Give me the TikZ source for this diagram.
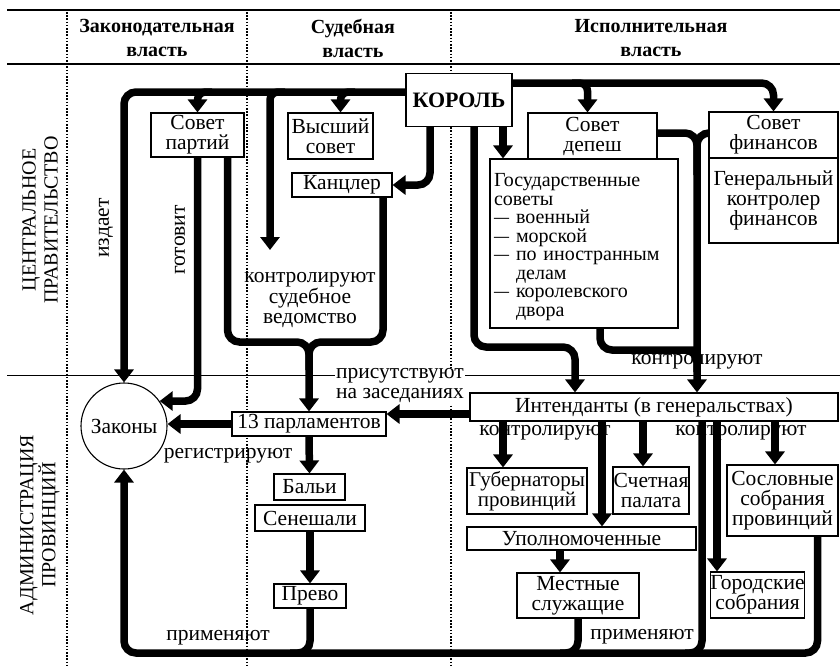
\documentclass[tikz,border=0pt]{standalone}
\usepackage{fontspec}
\setmainfont{Liberation Serif}
\usetikzlibrary{arrows.meta,calc}
\newcommand{\tire}{\makebox[1.1em][l]{\scalebox{0.75}[1]{—}}}

\begin{document}
\begin{tikzpicture}[x=1pt,y=-1pt,
    txt/.style={font=\fontsize{21.5}{20}\selectfont, align=center},
    box/.style={txt, draw, line width=1.1pt, fill=white, inner sep=0pt},
    flow/.style={line width=7.5pt, rounded corners=12pt},
    flowarr/.style={flow, -{Triangle[length=13pt,width=19pt]}},
    branch/.style={flowarr, rounded corners=8pt},
    head/.style={font=\fontsize{20}{24}\selectfont\bfseries, align=center},
    side/.style={font=\fontsize{20}{22}\selectfont, align=center, rotate=90},
    rule/.style={line width=1.2pt},
    dots/.style={line width=1.6pt, dash pattern=on 1.6pt off 1.6pt}]
        \useasboundingbox (0,0) rectangle (840,665);
        %SETKA
        \draw[rule] (7,10) -- (840,10);
        \draw[rule] (7,64) -- (840,64);
        \draw[line width=0.9pt] (7,375) -- (840,375);
        \draw[dots] (67,12) -- (67,665);
        \draw[dots] (247,12) -- (247,665);
        \draw[dots] (451,12) -- (451,665);
        %ZAGOLOVKI
        \node[head] (hzak) at (157,38) {Законодательная\\власть};
        \node[head] (hsud) at (353,38) {Судебная\\власть};
        \node[head] (hisp) at (651,38) {Исполнительная\\власть};
        \node[side] (hcentr) at (40,220) {ЦЕНТРАЛЬНОЕ\\ПРАВИТЕЛЬСТВО};
        \node[side] (hprov) at (40,525) {АДМИНИСТРАЦИЯ\\ПРОВИНЦИЙ};
        %CENTR
        \node[box, minimum width=106pt, minimum height=53pt, font=\fontsize{22}{22}\selectfont\bfseries] (korol) at (459,100) {КОРОЛЬ};
        \node[box, minimum width=93pt, minimum height=44pt] (sovpart) at (197.5,135) {Совет\\партий};
        \node[box, minimum width=85pt, minimum height=46pt] (vyssov) at (330.5,136) {Высший\\совет};
        \node[box, minimum width=100pt, minimum height=24pt] (kancl) at (342,185) {Канцлер};
        \node[box, minimum width=129pt, minimum height=46pt] (sovdep) at (592.5,136) {Совет\\депеш};
        \node[box, minimum width=188pt, minimum height=169pt, align=left, text width=180pt, font=\fontsize{20}{18.5}\selectfont] (gossov) at (584,243.5) {\rule{0pt}{20pt}Государственные\\советы\\\tire военный\\\tire морской\\\tire по иностранным\\\phantom{\tire}делам\\\tire королевского\\\phantom{\tire}двора};
        \node[box, minimum width=129pt, minimum height=46pt] (sovfin) at (773.5,135) {Совет\\финансов};
        \node[box, minimum width=129pt, minimum height=85pt] (genkontr) at (773.5,200.5) {Генеральный\\контролер\\финансов};
        %PROVINCII
        \node[txt, draw, circle, line width=1.1pt, minimum size=86pt, inner sep=0pt] (zakony) at (124,426) {Законы};
        \node[box, minimum width=154pt, minimum height=24pt] (parl) at (309,424) {13 парламентов};
        \node[box, minimum width=71pt, minimum height=26pt] (balli) at (309.5,487) {Бальи};
        \node[box, minimum width=110pt, minimum height=26pt] (seneshal) at (310,518) {Сенешали};
        \node[box, minimum width=72pt, minimum height=24pt] (prevo) at (310,596) {Прево};
        \node[box, minimum width=368pt, minimum height=28pt] (intend) at (654,407) {Интенданты (в генеральствах)};
        \node[box, minimum width=120pt, minimum height=46pt, font=\fontsize{21}{20}\selectfont] (gubern) at (527,491) {Губернаторы\\провинций};
        \node[box, minimum width=76pt, minimum height=47pt] (schet) at (651,490.5) {Счетная\\палата};
        \node[box, minimum width=111pt, minimum height=71pt] (soslov) at (782.5,500.5) {Сословные\\собрания\\провинций};
        \node[box, minimum width=229pt, minimum height=23pt] (upoln) at (581.5,538.5) {Уполномоченные};
        \node[box, minimum width=122pt, minimum height=45pt] (mestn) at (578,595.5) {Местные\\служащие};
        \node[box, minimum width=89pt, minimum height=46pt] (gorod) at (757.5,595) {Городские\\собрания};
        %STRELKI KOROL
        \draw[flowarr] (korol.west |- 0,92) -| (zakony.north);
        \draw[branch] (212,92) -| (sovpart.north);
        \draw[branch] (285,92) -| (270,250);
        \draw[branch] (355,92) -| ([xshift=10pt]vyssov.north);
        \draw[flowarr] ([xshift=-29pt]korol.south) |- (kancl.east);
        \draw[flowarr] ([xshift=44pt]korol.south) -- ([xshift=44pt]korol.south |- gossov.north);
        \draw[flowarr] (korol.east |- 0,83) -| (sovfin.north);
        \draw[branch] (572,83) -| ([xshift=-5pt]sovdep.north);
        \draw[flowarr] ([xshift=15pt]korol.south) |- ([xshift=-79pt]intend.north |- 0,347) -- ([xshift=-79pt]intend.north);
        %SOVETY
        \draw[flowarr] ([xshift=30pt]sovpart.south) |- (parl.north |- 0,342) -- (parl.north);
        \draw[flow] ([xshift=41pt]kancl.south) |- (parl.north |- 0,342) -- (parl.north |- 0,370);
        \draw[flow] (sovdep.east |- 0,133) -| (697,175);
        \draw[flowarr] (sovfin.west |- 0,133) -| ([xshift=43pt]intend.north);
        \draw[flow] ([xshift=16pt]gossov.south) |- (682,350) -| (697,372);
        \draw[flowarr] (sovpart.south) |- (zakony.35);
        %INTENDANTY
        \draw[flowarr] (intend.west |- 0,414) -- (parl.east |- 0,414);
        \draw[flowarr] (intend.south -| 503,0) -- (gubern.north -| 503,0);
        \draw[flowarr] (intend.south -| 602,0) -- (upoln.north -| 602,0);
        \draw[flowarr] (intend.south -| 643,0) -- (schet.north -| 643,0);
        \draw[flowarr] (intend.south -| 717,0) -- (gorod.north -| 717,0);
        \draw[flowarr] (intend.south -| 775,0) -- (soslov.north -| 775,0);
        \draw[flowarr] (upoln.south -| 560,0) -- (mestn.north -| 560,0);
        %PARLAMENT
        \draw[flowarr] (parl.west) -- (parl.west -| zakony.east);
        \draw[flowarr] (parl.south) -- (balli.north);
        \draw[flowarr] (seneshal.south) -- (prevo.north);
        %PRIMENYAYUT
        \draw[flowarr] ([xshift=35pt]soslov.south) |- (zakony.south |- 0,653) -- (zakony.south);
        \draw[flow] (prevo.south) |- (290,653);
        \draw[flow] (mestn.south) |- (560,653);
        \draw[flow] (intend.south -| 702,0) |- (685,653);
        %PODPISI
        \node[txt, rotate=90] (lizd) at (106,228) {издает};
        \node[txt, rotate=90] (lgot) at (180,240) {готовит};
        \node[txt] (lsud) at (310,300) {контролируют\\судебное\\ведомство};
        \node[txt, fill=white, inner sep=1pt] (lprisut) at (400,386) {присутствуют\\на заседаниях};
        \node[txt] (lkontr) at (697,362) {контролируют};
        \node[txt] (lreg) at (228,456) {регистрируют};
        \node[txt] (lkontrA) at (545,433) {контролируют};
        \node[txt] (lkontrB) at (741,433) {контролируют};
        \node[txt] (lprimA) at (218,638) {применяют};
        \node[txt] (lprimB) at (642,637) {применяют};
\end{tikzpicture}
\end{document}
